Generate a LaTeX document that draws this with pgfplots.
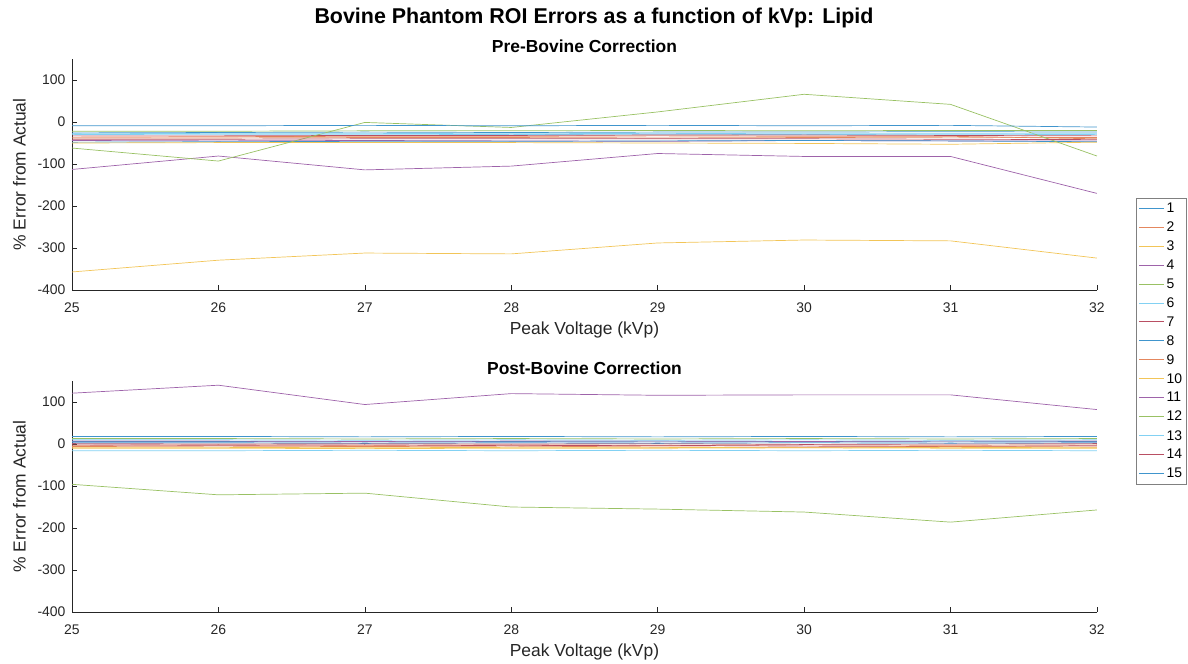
\documentclass[border=0pt]{standalone}
\usepackage{fontspec}
\setmainfont{Liberation Sans}
\usepackage{pgfplots}
\usepackage{pgfplotstable}
\pgfplotsset{compat=1.18}
\definecolor{m1}{RGB}{0,114,189}
\definecolor{m2}{RGB}{217,83,25}
\definecolor{m3}{RGB}{237,177,32}
\definecolor{m4}{RGB}{126,47,142}
\definecolor{m5}{RGB}{119,172,48}
\definecolor{m6}{RGB}{77,190,238}
\definecolor{m7}{RGB}{162,20,47}
\colorlet{c1}{m1!75!white}
\colorlet{c2}{m2!70!white}
\colorlet{c3}{m3!75!white}
\colorlet{c4}{m4!75!white}
\colorlet{c5}{m5!75!white}
\colorlet{c6}{m6!70!white}
\colorlet{c7}{m7!75!white}
\colorlet{c8}{m1!75!white}
\colorlet{c9}{m2!70!white}
\colorlet{c10}{m3!75!white}
\colorlet{c11}{m4!75!white}
\colorlet{c12}{m5!75!white}
\colorlet{c13}{m6!70!white}
\colorlet{c14}{m7!75!white}
\colorlet{c15}{m1!75!white}
\definecolor{axgray}{RGB}{38,38,38}

\pgfplotstableread{
kvp s1 s2 s3 s4 s5 s6 s7 s8 s9 s10 s11 s12 s13 s14 s15
25 -26 -36 -357 -44 -22 -30 -33 -48 -38 -50 -113 -62 -28 -41 -9
26 -25 -35 -329 -45 -22 -29 -33 -47 -38 -49 -81 -93 -27 -41 -9
27 -24 -34 -312 -44 -21 -29 -32 -46 -37 -49 -114 -1 -27 -40 -8
28 -25 -34 -314 -45 -21 -30 -32 -46 -37 -49 -105 -13 -28 -40 -9
29 -24 -33 -288 -46 -20 -29 -31 -45 -38 -50 -75 24 -27 -40 -8
30 -24 -34 -281 -44 -21 -30 -31 -44 -37 -51 -82 66 -28 -40 -9
31 -23 -34 -283 -45 -20 -29 -32 -45 -36 -53 -82 42 -28 -41 -8
32 -24 -40 -324 -45 -20 -30 -33 -47 -37 -48 -170 -81 -28 -42 -12
}\pre

\pgfplotstableread{
kvp s1 s2 s3 s4 s5 s6 s7 s8 s9 s10 s11 s12 s13 s14 s15
25 6 -3 -10 7 13 -16 -2 18 -6 -8 121 -96 10 1 3
26 6 -2 -10 7 13 -16 -3 18 -5 -8 140 -121 10 0 3
27 5 -3 -11 6 12 -15 -2 17 -6 -9 94 -117 9 1 2
28 6 -2 -10 7 13 -16 -4 18 -5 -8 120 -150 10 0 3
29 5 -3 -10 7 12 -15 -3 17 -7 -8 116 -155 9 1 2
30 6 -2 -9 6 13 -16 -5 18 -8 -9 117 -162 10 -1 3
31 5 -3 -10 7 12 -15 -6 17 -6 -8 117 -186 9 0 2
32 6 -2 -10 7 13 -16 -4 18 -7 -9 82 -157 10 1 3
}\post

\pgfplotsset{
  mystyle/.style={
    scale only axis, width=1025bp, height=231bp,
    xmin=25, xmax=32, ymin=-400, ymax=150,
    xtick={25,26,...,32}, ytick={-400,-300,...,100},
    axis lines*=left,
    axis line style={-, draw=axgray, line width=0.5bp},
    tick style={draw=axgray, line width=0.5bp},
    tick align=inside, major tick length=5bp,
    ticklabel style={font=\fontsize{14}{14}\selectfont, text=axgray},
    xticklabel style={yshift=-9bp},
    yticklabel style={xshift=-3bp},
    /pgf/number format/assume math mode=true,
    xlabel={Peak Voltage (kVp)},
    ylabel={\% Error from Actual},
    label style={font=\fontsize{17.5}{17.5}\selectfont, text=axgray},
    xlabel style={yshift=-3bp},
    ylabel style={yshift=5bp},
    title style={font=\bfseries\fontsize{17.5}{17.5}\selectfont, yshift=-3bp},
    every axis plot/.append style={line width=0.7bp},
    clip=false,
  }
}

\begin{document}
\begin{tikzpicture}
\useasboundingbox (0,0) rectangle (1188bp,-664bp);
\node[font=\bfseries\fontsize{21.5}{21.5}\selectfont] at (594bp,-18bp) {Bovine Phantom ROI Errors as a function of kVp: Lipid};
\begin{axis}[mystyle, at={(72bp,-290bp)}, anchor=south west,
  title={Pre-Bovine Correction},
  legend style={at={(1.038,0.398)}, anchor=north west, draw=gray,
    font=\fontsize{14}{14}\selectfont, row sep=3.8bp, inner sep=2.5bp,
    legend cell align=left},
  legend image code/.code={\draw[#1, line width=1bp] (0bp,0bp) -- (25bp,0bp);},
]
\pgfplotsinvokeforeach{1,...,15}{
  \addplot[color=c#1] table[x=kvp, y=s#1] {\pre};
  \addlegendentry{#1}
}
\end{axis}
\begin{axis}[mystyle, at={(72bp,-612bp)}, anchor=south west,
  title={Post-Bovine Correction}]
\pgfplotsinvokeforeach{1,...,15}{
  \addplot[color=c#1] table[x=kvp, y=s#1] {\post};
}
\end{axis}
\end{tikzpicture}
\end{document}
